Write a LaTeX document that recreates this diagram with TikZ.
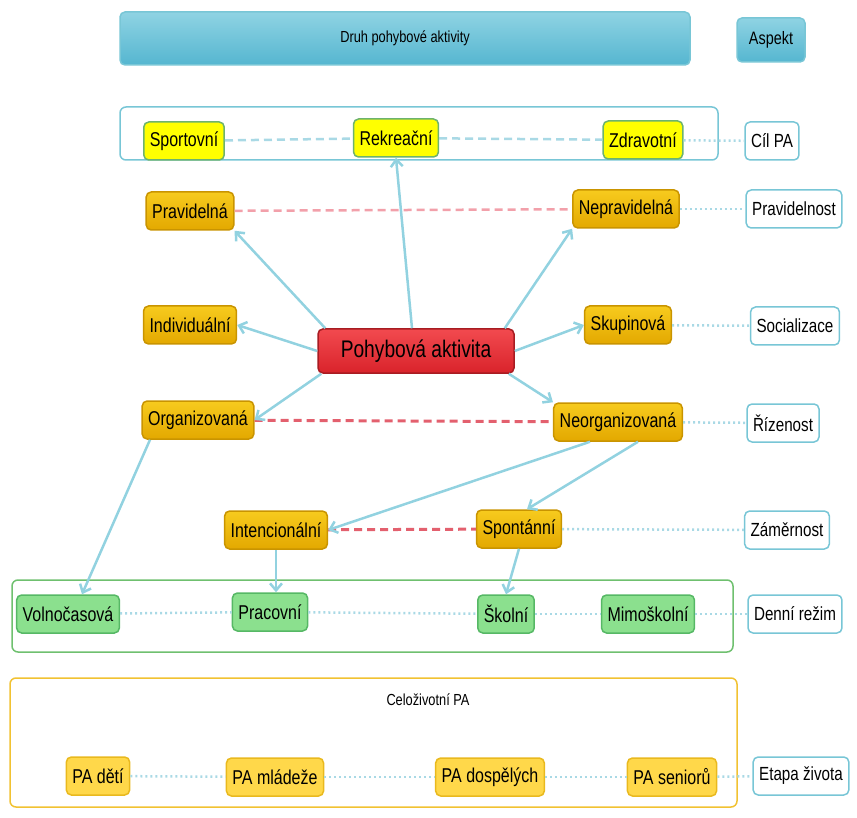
\documentclass[tikz,border=0pt]{standalone}
\usepackage{fontspec}
\setmainfont{Liberation Sans}[FakeStretch=0.8]
\usetikzlibrary{arrows.meta}

\definecolor{cyanline}{HTML}{78C6D6}
\definecolor{headtop}{HTML}{8FD3E3}
\definecolor{headbot}{HTML}{55B6D0}
\definecolor{aimfill}{HTML}{FFFF00}
\definecolor{aimborder}{HTML}{6DB36D}
\definecolor{kindtop}{HTML}{F7CB1E}
\definecolor{kindbot}{HTML}{E3A800}
\definecolor{kindborder}{HTML}{C99400}
\definecolor{redtop}{HTML}{F24A4F}
\definecolor{redbot}{HTML}{D9232B}
\definecolor{redborder}{HTML}{A81C22}
\definecolor{dayfill}{HTML}{8BE08E}
\definecolor{dayborder}{HTML}{56B865}
\definecolor{lifefill}{HTML}{FFD84A}
\definecolor{lifeborder}{HTML}{E9B91E}
\definecolor{greenline}{HTML}{6FC06F}
\definecolor{yellowline}{HTML}{F1C232}
\definecolor{arrowblue}{HTML}{92D2E0}
\definecolor{dotblue}{HTML}{A9D9E5}
\definecolor{dashpink}{HTML}{F2A0AA}
\definecolor{dashred}{HTML}{E3606E}

\begin{document}
\begin{tikzpicture}[x=1pt, y=-1pt,
    box/.style={rectangle, rounded corners=5pt, line width=1.5pt, minimum height=38pt, inner xsep=6pt, font=\fontsize{20}{22}\selectfont},
    headbox/.style={box, draw=cyanline, top color=headtop, bottom color=headbot, font=\fontsize{16}{18}\selectfont},
    aspectbox/.style={box, draw=cyanline, fill=white, font=\fontsize{19}{21}\selectfont},
    aimbox/.style={box, draw=aimborder, fill=aimfill},
    kindbox/.style={box, draw=kindborder, top color=kindtop, bottom color=kindbot},
    daybox/.style={box, draw=dayborder, fill=dayfill},
    lifebox/.style={box, draw=lifeborder, fill=lifefill},
    groupbox/.style={rectangle, rounded corners=6pt, line width=1.5pt, fill=none},
    arrowline/.style={draw=arrowblue, line width=2.5pt, -{Straight Barb[length=7pt, width=12pt]}},
    dotline/.style={draw=dotblue, line width=2.5pt, dash pattern=on 2pt off 3pt},
    bluedash/.style={draw=dotblue, line width=2.5pt, dash pattern=on 8pt off 5pt},
    pinkdash/.style={draw=dashpink, line width=2.5pt, dash pattern=on 8pt off 5pt},
    reddash/.style={draw=dashred, line width=3pt, dash pattern=on 8pt off 5pt}]

    \useasboundingbox (0,0) rectangle (857,818);

    % header
    \node (druh) [headbox, minimum width=570pt, minimum height=53pt] at (405,38.5) {Druh pohybové aktivity};
    \node (aspekt) [headbox, minimum width=68pt, minimum height=44pt, inner xsep=3pt, font=\fontsize{18}{20}\selectfont] at (771,40) {Aspekt};

    % frames
    \node (cilgroup) [groupbox, draw=cyanline, minimum width=598pt, minimum height=53pt] at (419,133.5) {};
    \node (dengroup) [groupbox, draw=greenline, minimum width=721pt, minimum height=72pt] at (372.5,616) {};
    \node (lifegroup) [groupbox, draw=yellowline, minimum width=727pt, minimum height=129pt] at (373.5,742.5) {};
    \node (lifelabel) [font=\fontsize{16}{18}\selectfont] at (428,700) {Celoživotní PA};

    % aims
    \node (sport) [aimbox] at (184,141) {Sportovní};
    \node (rekr) [aimbox] at (396,138) {Rekreační};
    \node (zdrav) [aimbox] at (643,140) {Zdravotní};
    \node (cil) [aspectbox] at (772,141) {Cíl PA};

    % kinds
    \node (prav) [kindbox] at (190,211) {Pravidelná};
    \node (neprav) [kindbox] at (626,209) {Nepravidelná};
    \node (pravid) [aspectbox] at (794,209) {Pravidelnost};
    \node (indiv) [kindbox] at (190,325) {Individuální};
    \node (pa) [box, draw=redborder, top color=redtop, bottom color=redbot, minimum width=196pt, minimum height=44pt, font=\fontsize{24}{26}\selectfont] at (416,351) {Pohybová aktivita};
    \node (skup) [kindbox] at (628,325) {Skupinová};
    \node (social) [aspectbox] at (795,326) {Socializace};
    \node (org) [kindbox] at (198,420) {Organizovaná};
    \node (neorg) [kindbox] at (618,422) {Neorganizovaná};
    \node (rizen) [aspectbox] at (783,423) {Řízenost};
    \node (inten) [kindbox] at (276,530) {Intencionální};
    \node (spont) [kindbox] at (519,529) {Spontánní};
    \node (zamer) [aspectbox] at (787,530) {Záměrnost};

    % daily regime
    \node (volno) [daybox] at (68,614) {Volnočasová};
    \node (prac) [daybox] at (270,612) {Pracovní};
    \node (skol) [daybox] at (506,614) {Školní};
    \node (mimo) [daybox] at (648,614) {Mimoškolní};
    \node (denni) [aspectbox] at (795,614) {Denní režim};

    % life stages
    \node (deti) [lifebox] at (98,776) {PA dětí};
    \node (mladez) [lifebox] at (275,777) {PA mládeže};
    \node (dospel) [lifebox] at (490,777) {PA dospělých};
    \node (senior) [lifebox] at (672,777) {PA seniorů};
    \node (etapa) [aspectbox] at (801,776) {Etapa života};

    % dashed and dotted links
    \draw[bluedash] (sport) -- (rekr);
    \draw[bluedash] (rekr) -- (zdrav);
    \draw[dotline] (zdrav) -- (cil);
    \draw[pinkdash] (prav) -- (neprav);
    \draw[dotline] (neprav) -- (pravid);
    \draw[dotline] (skup) -- (social);
    \draw[reddash] (org) -- (neorg);
    \draw[dotline] (neorg) -- (rizen);
    \draw[reddash] (inten) -- (spont);
    \draw[dotline] (spont) -- (zamer);
    \draw[dotline] (volno) -- (prac);
    \draw[dotline] (prac) -- (skol);
    \draw[dotline] (skol) -- (mimo);
    \draw[dotline] (mimo) -- (denni);
    \draw[dotline] (deti) -- (mladez);
    \draw[dotline] (mladez) -- (dospel);
    \draw[dotline] (dospel) -- (senior);
    \draw[dotline] (senior) -- (etapa);

    % arrows
    \draw[arrowline] ([xshift=8pt]pa.north west) -- (prav.south east);
    \draw[arrowline] ([xshift=-4pt]pa.north) -- (rekr.south);
    \draw[arrowline] ([xshift=-10pt]pa.north east) -- (neprav.south west);
    \draw[arrowline] (pa.west) -- (indiv.east);
    \draw[arrowline] (pa.east) -- (skup.west);
    \draw[arrowline] ([xshift=4pt]pa.south west) -- (org.east);
    \draw[arrowline] ([xshift=-6pt]pa.south east) -- (neorg.north west);
    \draw[arrowline] ([xshift=-28pt]neorg.south) -- (inten.east);
    \draw[arrowline] ([xshift=20pt]neorg.south) -- ([xshift=8pt]spont.north);
    \draw[arrowline] ([xshift=-48pt]org.south) -- ([xshift=14pt]volno.north);
    \draw[arrowline] (inten.south) -- (inten.south |- prac.north);
    \draw[arrowline] (spont.south) -- (skol.north);
\end{tikzpicture}
\end{document}
